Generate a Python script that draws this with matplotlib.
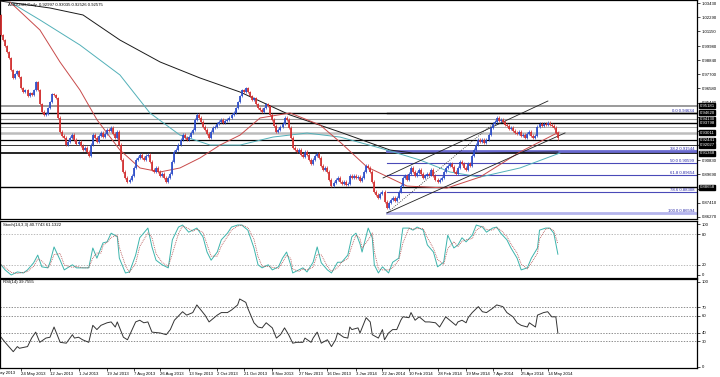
import numpy as np
import pandas as pd
import matplotlib
matplotlib.use('Agg')
import matplotlib.pyplot as plt
from matplotlib.transforms import blended_transform_factory as blend

plt.rcParams['font.family'] = ['Liberation Sans', 'DejaVu Sans']

# ---------------- data ----------------
title = 'AUDUSD,Daily  0.92997 0.93035 0.92526 0.92575'
stoch_title = 'Stoch(14,3,3) 40.7743 61.1322'
rsi_title = 'RSI(14) 39.7555'

first_open = 1.0247
closes = [
    1.0087, 1.0047, 0.9999, 0.9951, 0.9903, 0.9807, 0.9743, 0.9775, 0.9799, 0.9751,
    0.9663, 0.9631, 0.9647, 0.9599, 0.9623, 0.9607, 0.9647, 0.9711, 0.9647, 0.9535,
    0.9471, 0.9447, 0.9455, 0.9503, 0.9551, 0.9615, 0.9607, 0.9583, 0.9423, 0.9311, 0.9279,
    0.9263, 0.9207, 0.9231, 0.9263, 0.9287, 0.9247, 0.9215, 0.9231, 0.9199, 0.9167,
    0.9183, 0.9151, 0.9119, 0.9207, 0.9287, 0.9263, 0.9231, 0.9279, 0.9303, 0.9271,
    0.9295, 0.9327, 0.9319, 0.9343, 0.9295, 0.9263, 0.9311, 0.9207, 0.9087, 0.8991,
    0.8943, 0.8911,
    0.8927, 0.8959, 0.9023, 0.9087, 0.9103, 0.9127, 0.9103, 0.9087, 0.9119, 0.9127,
    0.9071, 0.9007, 0.8991, 0.9023, 0.8991, 0.8959, 0.8975, 0.8943, 0.8911, 0.8943,
    0.8975, 0.9071, 0.9151,
    0.9167, 0.9207, 0.9247, 0.9287, 0.9263, 0.9247, 0.9271, 0.9303, 0.9327, 0.9407,
    0.9447, 0.9423, 0.9391, 0.9351, 0.9327, 0.9295, 0.9263, 0.9311, 0.9343, 0.9351,
    0.9375, 0.9391, 0.9407, 0.9383, 0.9399, 0.9407, 0.9423, 0.9447, 0.9463, 0.9503,
    0.9551, 0.9599, 0.9647, 0.9631, 0.9663,
    0.9631, 0.9599, 0.9567, 0.9583, 0.9535, 0.9503, 0.9487, 0.9471, 0.9503, 0.9535,
    0.9519, 0.9447, 0.9407, 0.9359, 0.9311, 0.9327, 0.9351, 0.9375, 0.9423, 0.9407,
    0.9343, 0.9263, 0.9183, 0.9167, 0.9151, 0.9167, 0.9127, 0.9111, 0.9151, 0.9127,
    0.9087, 0.9055, 0.9087, 0.9119, 0.9135, 0.9103, 0.9039, 0.9007, 0.9023, 0.8991,
    0.8927, 0.8879, 0.8903, 0.8927, 0.8943, 0.8911, 0.8895, 0.8911, 0.8887, 0.8895,
    0.8959, 0.8943, 0.8959, 0.8943, 0.8951, 0.8919, 0.8943, 0.8991, 0.9039, 0.9023,
    0.8991, 0.8911, 0.8831, 0.8807, 0.8783, 0.8815, 0.8831, 0.8751, 0.8703,
    0.8743, 0.8767, 0.8783, 0.8759, 0.8783, 0.8831, 0.8879, 0.8943, 0.8959, 0.8927,
    0.8975, 0.9023, 0.8991, 0.8959, 0.8983, 0.9007, 0.8975, 0.8943, 0.8959, 0.8975,
    0.8967, 0.9007, 0.8959, 0.8927, 0.8911, 0.8927, 0.8943, 0.8991, 0.9023, 0.9039,
    0.9055, 0.9031, 0.8991, 0.8975, 0.9023, 0.9071, 0.9055, 0.9023, 0.9007, 0.9055,
    0.9039, 0.9119, 0.9167, 0.9207, 0.9247, 0.9231,
    0.9247, 0.9223, 0.9247, 0.9287, 0.9343, 0.9375, 0.9391, 0.9423, 0.9399, 0.9407,
    0.9391, 0.9367, 0.9359, 0.9335, 0.9343, 0.9319, 0.9303, 0.9295, 0.9311, 0.9279,
    0.9287, 0.9263, 0.9295, 0.9311, 0.9279, 0.9263, 0.9279, 0.9351, 0.9375, 0.9359,
    0.9375, 0.9367, 0.9383, 0.9367, 0.9359, 0.9343, 0.9300, 0.9257,
]

# moving averages (bar, price)
ma_red_bars = [4.4, 19.1, 28.9, 38.7, 47.1, 58.3, 68.1, 78, 87.7, 97.5, 107.4, 117.2,
               127, 141.7, 156.4, 166.2, 179.4, 190.7, 199, 218.6, 234.8, 254.4, 273.5]
ma_red = [1.0351, 1.0126, 0.9870, 0.9645, 0.9405, 0.9164, 0.9020, 0.8988, 0.9020, 0.9100,
          0.9204, 0.9284, 0.9421, 0.9461, 0.9365, 0.9228, 0.9028, 0.8940, 0.8875, 0.8859,
          0.8947, 0.9148, 0.9308]
ma_teal_bars = [4.4, 19.1, 38.7, 58.3, 73, 87.7, 102.5, 117.2, 133.3, 150, 166.2,
                185.8, 205.4, 220.1, 234.8, 254.4, 274]
ma_teal = [1.0351, 1.0207, 1.0006, 0.9766, 0.9461, 0.9284, 0.9204, 0.9204, 0.9268, 0.9300,
           0.9268, 0.9180, 0.9084, 0.8988, 0.8947, 0.9020, 0.9140]
ma_black_bars = [-0.5, 24, 40.2, 58.3, 78, 97.5, 117.2, 141.7, 166.2, 190.7, 202, 234.8, 273]
ma_black = [1.0359, 1.0303, 1.0247, 1.0046, 0.9870, 0.9742, 0.9629, 0.9445, 0.9308, 0.9164,
            0.9140, 0.9140, 0.9148]

# horizontal levels drawn on the chart
level_prices = [0.95181, 0.94620, 0.94130, 0.93798, 0.93450, 0.93011, 0.92441, 0.92027,
                0.91368, 0.88658]
level_colors = ['#9a9a9a', '#000000', '#9a9a9a', '#000000', '#a8a8a8', '#bdbdbd',
                '#000000', '#333333', '#000000', '#000000']
level_widths = [1.4, 1.0, 0.8, 1.0, 0.7, 1.8, 0.9, 0.7, 1.2, 1.0]
level_labels = ['0.95181', '0.94620', '0.94130', '0.93798', None, '0.93011', '0.92441',
                '0.92027', '0.91368', '0.88658']

# fibonacci retracement (from 24 Jan 2014 low)
fib_start = 189
fib_prices = [0.94634, 0.91544, 0.90599, 0.89654, 0.88308, 0.86594]
fib_labels = ['0.0 0.94634', '38.2 0.91544', '50.0 0.90599', '61.8 0.89654',
              '78.6 0.88308', '100.0 0.86594']

# trend channel (bar0, price0, bar1, price1, style)
trend_lines = [
    (187.3, 0.8940, 268.1, 0.9557, '-'),
    (189.2, 0.8659, 276.5, 0.9301, '-'),
    (189.2, 0.8659, 244.6, 0.9421, ':'),
]

# indicators
stoch_bars = [0, 2, 5, 8, 11, 13, 16, 18, 20, 23,
              24, 26, 29, 31, 35, 37, 40, 43, 45, 47,
              49, 50, 52, 54, 57, 58, 61, 63, 66, 68,
              72, 74, 76, 79, 82, 84, 87, 89, 92, 94,
              96, 99, 101, 103, 106, 108, 111, 113, 116, 118,
              121, 124, 126, 128, 131, 133, 136, 138, 140, 142,
              143, 146, 148, 150, 153, 155, 157, 160, 162, 165,
              167, 170, 172, 174, 176, 177, 180, 182, 183, 185,
              187, 190, 192, 195, 197, 200, 202, 204, 207, 209,
              212, 214, 217, 219, 222, 224, 226, 228, 231, 233,
              236, 238, 241, 243, 245, 248, 250, 253, 255, 258,
              260, 263, 264, 267, 269, 271, 273]
stoch_main = [20, 10, 0, 6, 4, 10, 24, 39, 16, 14,
              25, 55, 29, 10, 20, 14, 14, 14, 53, 33,
              53, 63, 65, 82, 75, 33, 4, 6, 39, 73,
              92, 55, 29, 20, 14, 69, 94, 98, 84, 88,
              92, 75, 45, 29, 45, 69, 82, 94, 98, 98,
              88, 53, 20, 14, 20, 10, 16, 33, 45, 20,
              4, 10, 14, 6, 25, 55, 24, 10, 4, 25,
              25, 39, 75, 82, 61, 45, 92, 73, 20, 4,
              16, 4, 25, 33, 92, 92, 88, 94, 88, 59,
              45, 16, 25, 78, 53, 59, 73, 65, 78, 98,
              94, 84, 92, 94, 82, 69, 53, 33, 10, 14,
              33, 53, 88, 92, 92, 82, 40.77]

rsi_bars = [0, 2, 6, 8, 9, 13, 15, 17, 19, 22,
            24, 26, 29, 32, 35, 36, 38, 40, 43, 45,
            47, 49, 52, 54, 56, 57, 60, 62, 66, 68,
            70, 72, 74, 78, 81, 83, 85, 89, 91, 94,
            96, 98, 100, 102, 106, 108, 111, 113, 116, 117,
            120, 121, 124, 126, 128, 130, 133, 135, 137, 139,
            141, 143, 145, 148, 149, 152, 153, 155, 157, 160,
            162, 164, 165, 168, 170, 171, 172, 175, 176, 177,
            179, 181, 182, 185, 187, 188, 190, 192, 194, 196,
            197, 200, 201, 203, 205, 208, 210, 213, 215, 218,
            220, 223, 224, 226, 228, 229, 231, 234, 236, 238,
            241, 243, 246, 248, 251, 253, 255, 258, 259, 262,
            263, 266, 268, 270, 272, 273]
rsi_vals = [35, 29, 18, 24, 22, 24, 34, 41, 29, 34,
            35, 47, 29, 28, 38, 34, 35, 32, 29, 49,
            44, 49, 52, 53, 47, 53, 35, 32, 53, 55,
            52, 53, 41, 40, 38, 44, 55, 65, 61, 64,
            73, 67, 61, 53, 61, 64, 64, 67, 73, 80,
            76, 69, 52, 47, 46, 52, 46, 34, 38, 46,
            38, 28, 29, 29, 34, 29, 34, 41, 28, 32,
            24, 32, 40, 35, 34, 47, 44, 46, 40, 46,
            58, 53, 38, 34, 44, 32, 40, 44, 44, 55,
            59, 58, 64, 55, 59, 53, 53, 52, 47, 59,
            55, 49, 53, 55, 52, 58, 64, 71, 65, 64,
            69, 73, 71, 64, 59, 52, 49, 47, 52, 47,
            61, 64, 65, 59, 59, 39.76]

price_ticks = [1.03430, 1.02290, 1.01150, 0.99980, 0.98840, 0.97700, 0.96580, 0.95440,
               0.94300, 0.93160, 0.92020, 0.90830, 0.89690, 0.88550, 0.87410, 0.86270]
# labels hidden behind the black level boxes
price_hidden = [0.94300, 0.93160, 0.92020]
date_bars = [10, 24, 38, 52, 65, 78, 92, 106, 119, 133, 146, 160, 174, 187, 200, 214,
             228, 241, 255, 268]
date_labels = ['24 May 2013', '12 Jun 2013', '1 Jul 2013', '19 Jul 2013', '7 Aug 2013',
               '26 Aug 2013', '13 Sep 2013', '2 Oct 2013', '21 Oct 2013', '8 Nov 2013',
               '27 Nov 2013', '16 Dec 2013', '3 Jan 2014', '22 Jan 2014', '10 Feb 2014',
               '28 Feb 2014', '19 Mar 2014', '7 Apr 2014', '25 Apr 2014', '14 May 2014']

# ---------------- figure ----------------
W, H = 720, 377
fig = plt.figure(figsize=(W / 100, H / 100), dpi=100)
fig.patch.set_facecolor('white')


def px_axes(top, bottom, right=697):
    return fig.add_axes([0, 1 - bottom / H, right / W, (bottom - top) / H])


ax = px_axes(0, 219)
ax_st = px_axes(221, 278)
ax_rsi = px_axes(279, 368)

XMIN, XMAX = -0.5, 341.2
fs = 3.1

for a in (ax, ax_st, ax_rsi):
    a.set_xlim(XMIN, XMAX)
    a.yaxis.tick_right()
    a.tick_params(axis='y', length=2, width=0.5, pad=1.2, labelsize=fs, colors='black')
    a.tick_params(axis='x', length=0, labelbottom=False)
    for s in a.spines.values():
        s.set_linewidth(0.9)
        s.set_color('black')

# ---- main price chart ----
ax.set_ylim(0.86108, 1.03671)
c = np.array(closes)
o = np.array([first_open] + closes[:-1])
x = np.arange(len(c))
up = c >= o
wick = 0.0010
hi = np.maximum(o, c) + wick
lo = np.minimum(o, c) - wick
bull, bear = '#2c4cc8', '#d23030'
ax.vlines(x[up], lo[up], hi[up], color=bull, lw=0.5, zorder=4)
ax.vlines(x[~up], lo[~up], hi[~up], color=bear, lw=0.5, zorder=4)
ax.vlines(x[up], o[up], c[up], color=bull, lw=1.25, zorder=4)
ax.vlines(x[~up], c[~up], o[~up], color=bear, lw=1.25, zorder=4)

ax.plot(ma_black_bars, ma_black, color='#1a1a1a', lw=0.7, zorder=3)
ax.plot(ma_teal_bars, ma_teal, color='#52b0b8', lw=0.7, zorder=3)
ax.plot(ma_red_bars, ma_red, color='#c84a4a', lw=0.7, zorder=3)

for p, col, lw in zip(level_prices, level_colors, level_widths):
    ax.axhline(p, color=col, lw=lw, zorder=2)

fib_colors = ['#000000', '#6a6ad0', '#4a4ab8', '#4a4ab8', '#4a4ab8', '#b4b4ec']
fib_widths = [1.0, 2.0, 0.8, 0.8, 0.8, 2.0]
for p, lab, col, lw in zip(fib_prices, fib_labels, fib_colors, fib_widths):
    ax.plot([fib_start, XMAX], [p, p], color=col, lw=lw, zorder=2.5)
    ax.text(0.996, p, lab, transform=blend(ax.transAxes, ax.transData), ha='right',
            va='bottom', fontsize=fs, color='#2828a8', zorder=6)

for b0, p0, b1, p1, ls in trend_lines:
    ax.plot([b0, b1], [p0, p1], color='#222222', lw=0.6, ls=ls, zorder=3.5)

ax.set_yticks(price_ticks)
ax.set_yticklabels(['' if t in price_hidden else '%.5f' % t for t in price_ticks])
tr = blend(ax.transAxes, ax.transData)
for p, lab in zip(level_prices, level_labels):
    if lab is None:
        continue
    ax.text(1.0035, p, lab, transform=tr, ha='left', va='center', fontsize=fs,
            color='white', clip_on=False, zorder=10,
            bbox=dict(boxstyle='square,pad=0.1', fc='black', ec='black'))

ax.text(0.012, 0.988, title, transform=ax.transAxes, ha='left', va='top', fontsize=fs)

# ---- stochastic ----
ax_st.set_ylim(-5.9, 105.9)
k = pd.Series(stoch_main, dtype=float)
d = k.rolling(2, min_periods=1).mean()
for lvl in (20, 80):
    ax_st.axhline(lvl, color='#a0a0a0', lw=0.5, ls=(0, (2, 2)))
ax_st.plot(stoch_bars, k, color='#3cb4ac', lw=0.7)
ax_st.plot(stoch_bars, d, color='#b04848', lw=0.6, ls=(0, (1, 1.2)))
ax_st.set_yticks([100, 80, 20, 0])
ax_st.set_yticklabels(['100', '80', '20', '0'])
ax_st.text(0.004, 0.96, stoch_title, transform=ax_st.transAxes, ha='left', va='top',
           fontsize=fs)

# ---- RSI ----
ax_rsi.set_ylim(-1.2, 103.5)
for lvl in (30, 40, 60, 70):
    ax_rsi.axhline(lvl, color='#606060', lw=0.5, ls=(0, (2, 2)))
ax_rsi.plot(rsi_bars, rsi_vals, color='#333333', lw=0.7)
ax_rsi.set_yticks([100, 70, 60, 40, 30, 0])
ax_rsi.set_yticklabels(['100', '70', '60', '40', '30', '0'])
ax_rsi.text(0.004, 0.985, rsi_title, transform=ax_rsi.transAxes, ha='left', va='top',
            fontsize=fs)

ax_rsi.set_xticks(date_bars)
ax_rsi.set_xticklabels(date_labels, ha='left')
ax_rsi.tick_params(axis='x', length=2, width=0.5, pad=1.2, labelsize=fs,
                   labelbottom=True)
fig.text(-7 / W, 1 - 373 / H, '6 May 2013', ha='left', va='center', fontsize=fs)

fig.savefig('out.png', dpi=100, facecolor='white')
